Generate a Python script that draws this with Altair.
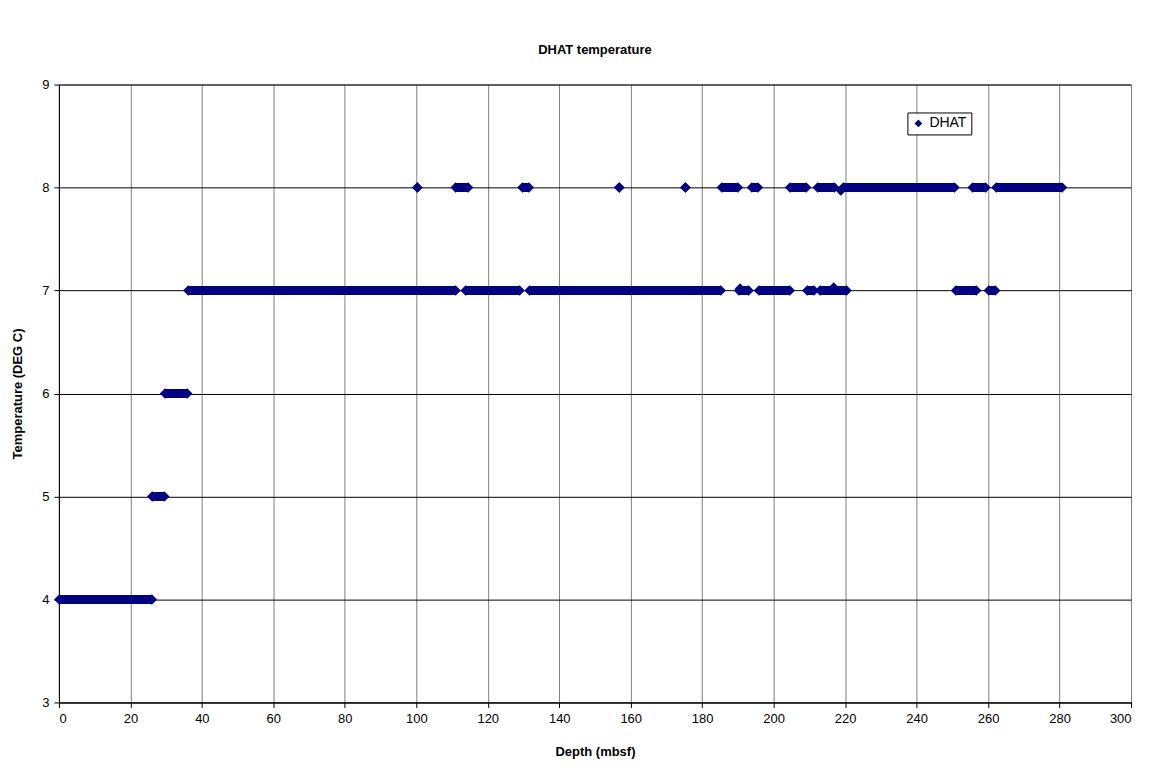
import altair as alt
import pandas as pd

# Runs of DHAT readings (start depth, end depth, temperature)
run_start = [0.1, 26.1, 29.7,
             36.2, 113.8, 131.7, 190.3, 195.9, 209.4, 213.0, 251.0, 260.2,
             100.3, 111.0, 129.7, 156.8, 175.3, 185.5, 193.9, 204.6, 212.3, 219.5, 255.7, 262.3]
run_end = [26.0, 29.5, 35.9,
           111.0, 128.9, 185.2, 193.0, 204.5, 211.3, 220.4, 256.7, 262.0,
           100.3, 114.5, 131.5, 156.8, 175.3, 190.0, 195.6, 209.1, 217.0, 250.6, 259.3, 280.7]
run_temp = [4, 5, 6,
            7, 7, 7, 7, 7, 7, 7, 7, 7,
            8, 8, 8, 8, 8, 8, 8, 8, 8, 8, 8, 8]

# Isolated readings slightly off the integer levels
extra_depth = [216.8, 218.8, 190.6]
extra_temp = [7.03, 7.97, 7.02]

runs = pd.DataFrame({"start": run_start, "end": run_end, "temp": run_temp})
pts = pd.DataFrame({
    "depth": run_start + run_end + extra_depth,
    "temp": run_temp + run_temp + extra_temp,
})
pts["series"] = "DHAT"

NAVY = "#000080"
FONT = "Liberation Sans"

x_scale = alt.Scale(domain=[0, 300], nice=False)
y_scale = alt.Scale(domain=[3, 9], nice=False)

x_axis = alt.Axis(values=list(range(0, 301, 20)), title="Depth (mbsf)", format="d",
                  grid=True, gridColor="#808080", tickSize=5, tickColor="#000",
                  domainColor="#000", labelFontSize=13, labelColor="#000",
                  titleFontSize=13, titleFontWeight="bold", titlePadding=20,
                  labelPadding=5)
y_axis = alt.Axis(values=list(range(3, 10)), title="Temperature (DEG C)", format="d",
                  grid=True, gridColor="#000", tickSize=5, tickColor="#000",
                  domainColor="#000", labelFontSize=13, labelColor="#000",
                  titleFontSize=13, titleFontWeight="bold", titlePadding=17,
                  labelPadding=5)

bars = alt.Chart(runs).mark_rule(color=NAVY, strokeWidth=9, strokeCap="butt").encode(
    x=alt.X("start:Q", scale=x_scale, axis=x_axis),
    x2="end:Q",
    y=alt.Y("temp:Q", scale=y_scale, axis=y_axis),
)

points = alt.Chart(pts).mark_point(shape="diamond", filled=True, size=110, opacity=1).encode(
    x=alt.X("depth:Q", scale=x_scale),
    y=alt.Y("temp:Q", scale=y_scale),
    color=alt.Color("series:N", scale=alt.Scale(range=[NAVY]),
                    legend=alt.Legend(title=None, orient="none", legendX=850, legendY=28,
                                      symbolType="diamond", symbolSize=60,
                                      labelFontSize=14, labelColor="#000",
                                      strokeColor="#000", fillColor="#fff",
                                      padding=4, symbolOffset=0)),
)

chart = alt.layer(bars, points).properties(
    width=1074, height=619,
    title=alt.Title("DHAT temperature", fontSize=13, fontWeight="bold", offset=22,
                    anchor="middle", font=FONT, color="#000"),
    autosize=alt.AutoSizeParams(type="none"),
    padding={"left": 51, "top": 76, "right": 12, "bottom": 58},
).configure(font=FONT).configure_view(stroke="#808080", strokeWidth=1)

chart.save("out.html", embed_options={"renderer": "svg", "actions": False})
